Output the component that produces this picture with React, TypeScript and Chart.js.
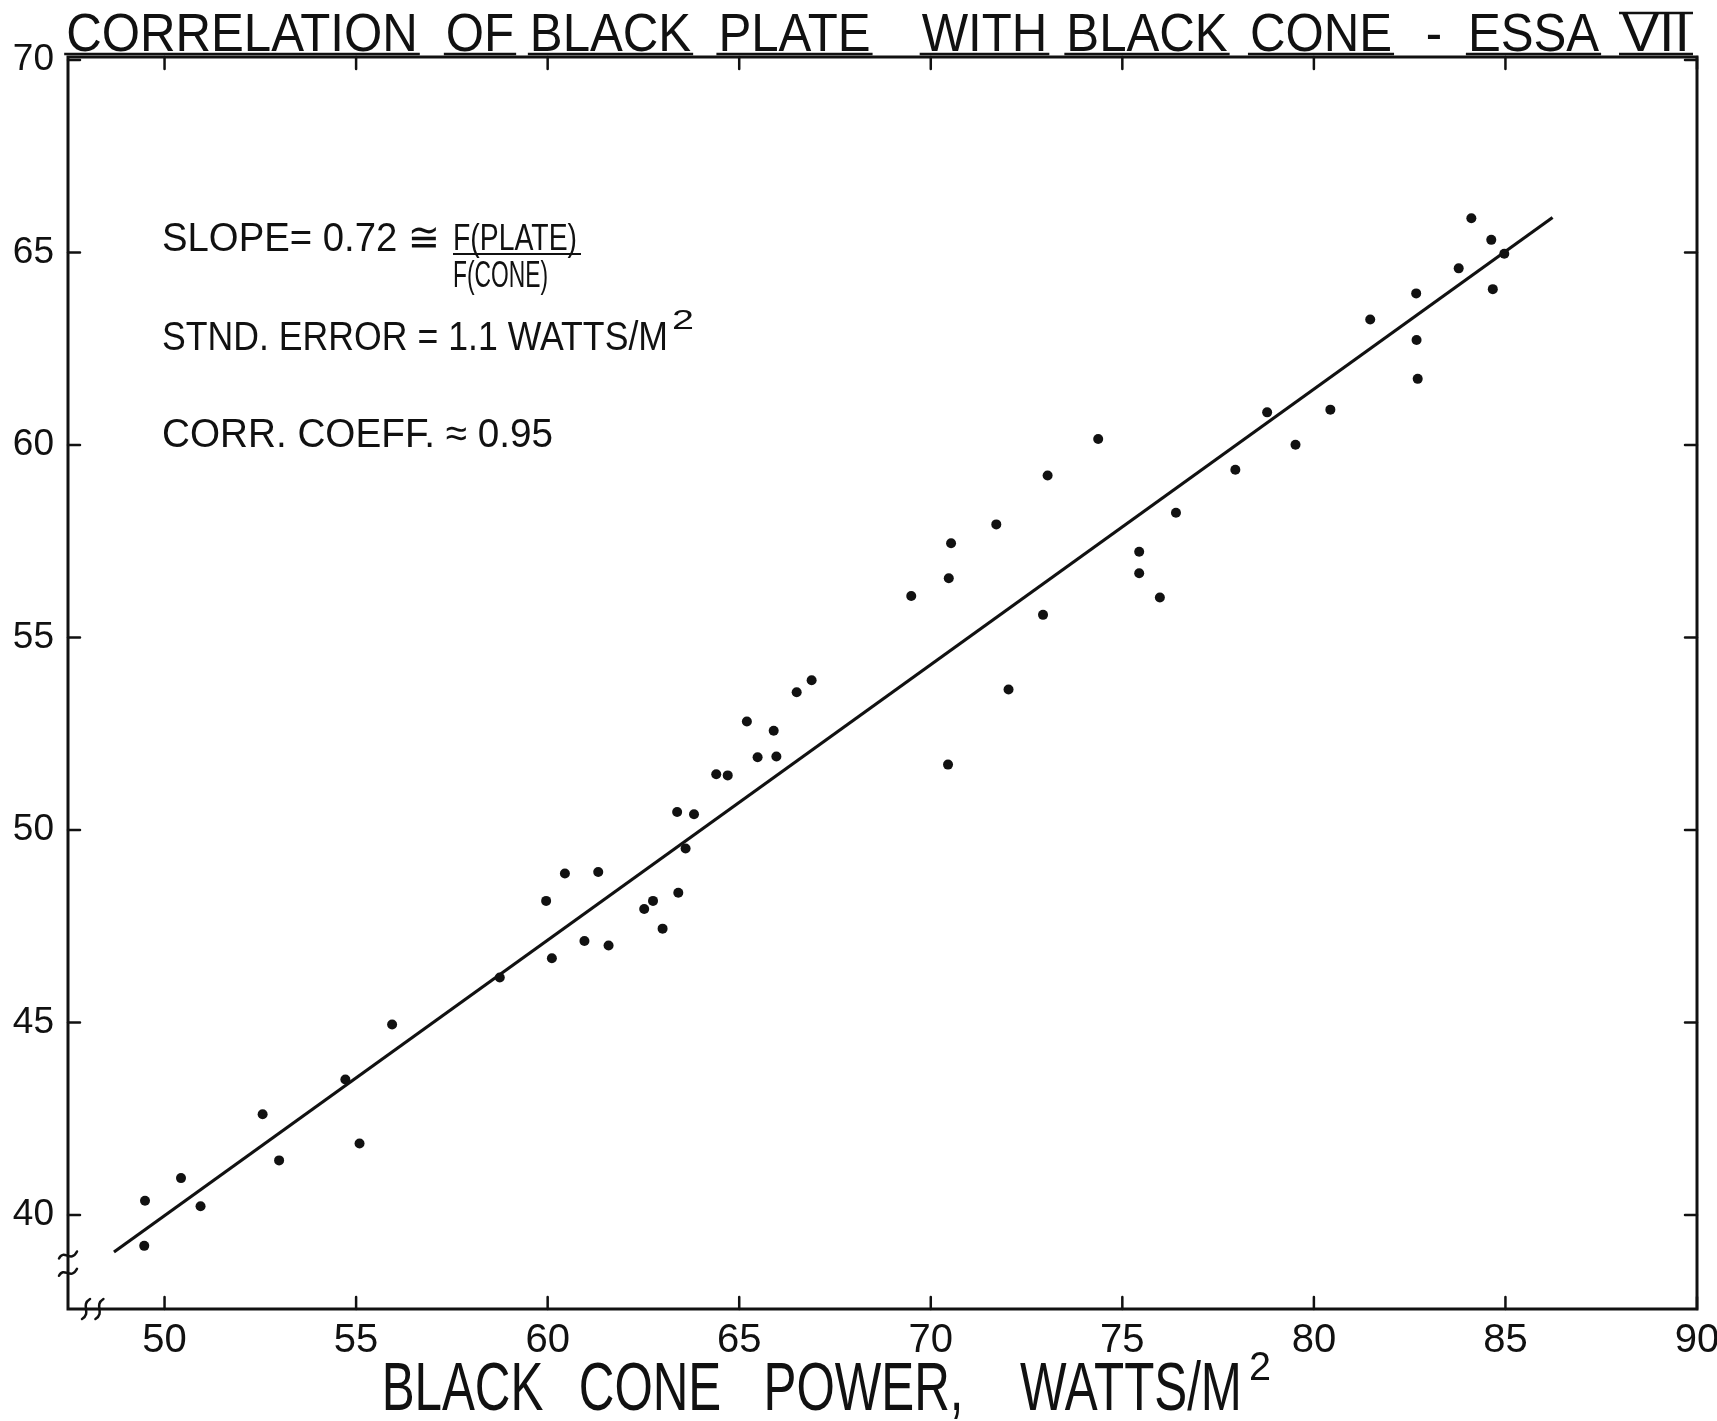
import React, { useEffect, useRef } from "react";
import { Chart, registerables } from "chart.js";

Chart.register(...registerables);

// ---- data ----
const coneX = [
  49.49, 49.47, 50.43, 50.94, 52.56, 52.99, 54.72, 55.09, 55.94, 58.75,
  59.96, 60.11, 60.45, 60.96, 61.32, 61.59, 62.52, 62.75, 63.0, 63.41,
  63.6, 63.38, 63.82, 64.4, 64.7, 65.2, 65.48, 65.97, 65.9, 66.5,
  66.89, 69.49, 70.47, 70.53, 70.45, 71.71, 72.03, 72.93, 73.05, 74.37,
  75.44, 75.44, 75.98, 76.4, 77.95, 78.78, 79.52, 80.43, 81.47, 82.67,
  82.68, 82.71, 83.78, 84.11, 84.63, 84.67, 84.97,
];
const plateY = [
  40.37, 39.2, 40.96, 40.23, 42.62, 41.42, 43.52, 41.86, 44.95, 46.17,
  48.16, 46.67, 48.87, 47.12, 48.91, 47.0, 47.95, 48.16, 47.44, 48.37,
  49.52, 50.47, 50.41, 51.45, 51.42, 52.82, 51.89, 51.91, 52.58, 53.58,
  53.89, 56.08, 56.54, 57.45, 51.7, 57.94, 53.65, 55.59, 59.21, 60.16,
  57.23, 56.67, 56.04, 58.24, 59.36, 60.85, 60.01, 60.92, 63.26, 63.94,
  62.73, 61.72, 64.59, 65.89, 65.33, 64.05, 64.97,
];
const fitX = [48.68, 86.23];
const fitY = [39.04, 65.91];

const xTickValues = [50, 55, 60, 65, 70, 75, 80, 85, 90];
const yTickValues = [40, 45, 50, 55, 60, 65, 70];
const xRange = [47.48, 90];
const yRange = [37.56, 70.08];
const xBreakMarks = [47.95, 48.3];
const yBreakMarks = [38.95, 38.5];

const titleWords = ["CORRELATION", "OF", "BLACK", "PLATE", "WITH", "BLACK", "CONE", "-", "ESSA"];
const titleNumeral = "VII";
const xAxisWords = ["BLACK", "CONE", "POWER,", "WATTS/M"];
const slopeText = "SLOPE= 0.72 \u2245";
const slopeNum = "F(PLATE)";
const slopeDen = "F(CONE)";
const errorText = "STND. ERROR = 1.1 WATTS/M";
const corrText = "CORR. COEFF. \u2248 0.95";

// layout: horizontal spans of words (pixels) and total inked width
const titleSpans = [
  [68, 416], [451, 509], [544, 677], [704, 885], [920, 1049],
  [1079, 1215], [1235, 1407], [1423, 1445], [1468, 1599],
];
const titleInk = 1310;
const xAxisSpans = [[396, 529], [569, 731], [763, 964], [1016, 1246]];
const xAxisInk = 726;

const INK = "#111";
const FONT = "'Liberation Sans', 'DejaVu Sans', Arial, sans-serif";

function fitText(
  ctx: CanvasRenderingContext2D,
  text: string,
  x: number,
  y: number,
  size: number,
  width: number
): number {
  ctx.save();
  ctx.font = `${size}px ${FONT}`;
  const w = ctx.measureText(text).width;
  const sx = width / w;
  ctx.translate(x, y);
  ctx.scale(sx, 1);
  ctx.fillStyle = INK;
  ctx.textBaseline = "alphabetic";
  ctx.textAlign = "left";
  ctx.fillText(text, 0, 0);
  ctx.restore();
  return sx;
}

function hline(ctx: CanvasRenderingContext2D, x1: number, x2: number, y: number, w: number) {
  ctx.save();
  ctx.strokeStyle = INK;
  ctx.lineWidth = w;
  ctx.beginPath();
  ctx.moveTo(x1, y);
  ctx.lineTo(x2, y);
  ctx.stroke();
  ctx.restore();
}

function wordsRow(
  ctx: CanvasRenderingContext2D,
  words: string[],
  spans: number[][],
  inkTotal: number,
  base: number,
  size: number,
  underline: boolean
) {
  ctx.save();
  ctx.font = `${size}px ${FONT}`;
  const nat = words.map((w) => ctx.measureText(w).width);
  ctx.restore();
  const sx = inkTotal / nat.reduce((s, v) => s + v, 0);
  words.forEach((w, i) => {
    const width = nat[i] * sx;
    const c = (spans[i][0] + spans[i][1]) / 2;
    const l = c - width / 2;
    fitText(ctx, w, l, base, size, width);
    if (underline && w !== "-") hline(ctx, l - 2, l + width + 2, base + 3, 2.5);
  });
}

const decorPlugin = {
  id: "decor",
  afterDraw(chart: any) {
    const { ctx, chartArea: a, scales } = chart;
    const xs = scales.x;
    const ys = scales.y;
    ctx.save();
    ctx.strokeStyle = INK;
    ctx.lineCap = "round";
    // frame
    ctx.lineWidth = 3;
    ctx.strokeRect(a.left, a.top, a.right - a.left, a.bottom - a.top);
    // inward ticks
    ctx.lineWidth = 2.5;
    const L = 12;
    xs.ticks.forEach((t: any) => {
      const px = xs.getPixelForValue(t.value);
      ctx.beginPath();
      ctx.moveTo(px, a.bottom);
      ctx.lineTo(px, a.bottom - L);
      ctx.moveTo(px, a.top);
      ctx.lineTo(px, a.top + L);
      ctx.stroke();
    });
    ys.ticks.forEach((t: any) => {
      const py = ys.getPixelForValue(t.value);
      ctx.beginPath();
      ctx.moveTo(a.left, py);
      ctx.lineTo(a.left + L, py);
      ctx.moveTo(a.right, py);
      ctx.lineTo(a.right - L, py);
      ctx.stroke();
    });
    // axis break marks
    ctx.lineWidth = 2.5;
    yBreakMarks.forEach((v) => {
      const py = ys.getPixelForValue(v);
      const x = a.left;
      ctx.beginPath();
      ctx.moveTo(x - 9, py + 3);
      ctx.bezierCurveTo(x - 4, py - 7, x + 3, py + 8, x + 9, py - 4);
      ctx.stroke();
    });
    xBreakMarks.forEach((v) => {
      const px = xs.getPixelForValue(v);
      const y = a.bottom;
      ctx.beginPath();
      ctx.moveTo(px - 4, y + 10);
      ctx.bezierCurveTo(px + 6, y + 4, px - 6, y - 4, px + 4, y - 10);
      ctx.stroke();
    });
    ctx.restore();

    // title, word by word, underlined
    const tSize = 54;
    const tBase = 51;
    wordsRow(ctx, titleWords, titleSpans, titleInk, tBase, tSize, true);
    const nLeft = 1622;
    const nWidth = 68;
    fitText(ctx, titleNumeral, nLeft, tBase, tSize, nWidth);
    hline(ctx, nLeft - 3, nLeft + nWidth + 3, tBase - 38, 2.5);
    hline(ctx, nLeft - 3, nLeft + nWidth + 3, tBase + 3, 2.5);

    // annotations
    fitText(ctx, slopeText, 162, 251, 40, 278);
    fitText(ctx, slopeNum, 453, 250, 36, 124);
    hline(ctx, 453, 581, 254, 2.2);
    fitText(ctx, slopeDen, 453, 287, 36, 95);
    fitText(ctx, errorText, 162, 350, 41, 506);
    fitText(ctx, "2", 672, 329, 28, 22);
    fitText(ctx, corrText, 162, 447, 41, 391);

    // x axis title, word by word
    wordsRow(ctx, xAxisWords, xAxisSpans, xAxisInk, 1410, 68, false);
    fitText(ctx, "2", 1249, 1380, 40, 22);
  },
};

export default function App() {
  const ref = useRef<HTMLCanvasElement | null>(null);
  useEffect(() => {
    document.body.style.margin = "0";
    document.body.style.background = "#fff";
    const canvas = ref.current;
    if (!canvas) return;
    const points = coneX.map((x, i) => ({ x, y: plateY[i] }));
    const fit = fitX.map((x, i) => ({ x, y: fitY[i] }));
    const chart = new Chart(canvas, {
      type: "scatter",
      data: {
        datasets: [
          {
            type: "line",
            data: fit,
            borderColor: INK,
            borderWidth: 3.2,
            pointRadius: 0,
            showLine: true,
            fill: false,
          } as any,
          {
            type: "scatter",
            data: points,
            backgroundColor: INK,
            borderWidth: 0,
            pointRadius: 5,
          },
        ],
      },
      plugins: [decorPlugin],
      options: {
        animation: false,
        responsive: false,
        devicePixelRatio: 1,
        layout: { padding: { top: 57, right: 20, bottom: 0, left: 0 } },
        plugins: {
          legend: { display: false },
          tooltip: { enabled: false },
          title: { display: false },
        },
        scales: {
          x: {
            type: "linear",
            min: xRange[0],
            max: xRange[1],
            grid: { display: false, drawTicks: false },
            border: { display: false },
            ticks: {
              stepSize: 5,
              includeBounds: false,
              padding: 8,
              color: INK,
              font: { family: FONT, size: 40 },
              maxRotation: 0,
              callback: (v: any) => (xTickValues.includes(Number(v)) ? String(v) : ""),
            },
            afterFit: (s: any) => {
              s.height = 112;
              s.paddingLeft = 0;
              s.paddingRight = 0;
            },
          },
          y: {
            type: "linear",
            min: yRange[0],
            max: yRange[1],
            grid: { display: false, drawTicks: false },
            border: { display: false },
            ticks: {
              stepSize: 5,
              includeBounds: false,
              padding: 14,
              color: INK,
              font: { family: FONT, size: 37 },
              callback: (v: any) => (yTickValues.includes(Number(v)) ? String(v) : ""),
            },
            afterFit: (s: any) => {
              s.width = 68;
              s.paddingTop = 0;
              s.paddingBottom = 0;
            },
          },
        },
      },
    });
    return () => chart.destroy();
  }, []);
  return (
    <canvas
      ref={ref}
      width={1717}
      height={1421}
      style={{ position: "fixed", left: 0, top: 0, display: "block" }}
    />
  );
}
